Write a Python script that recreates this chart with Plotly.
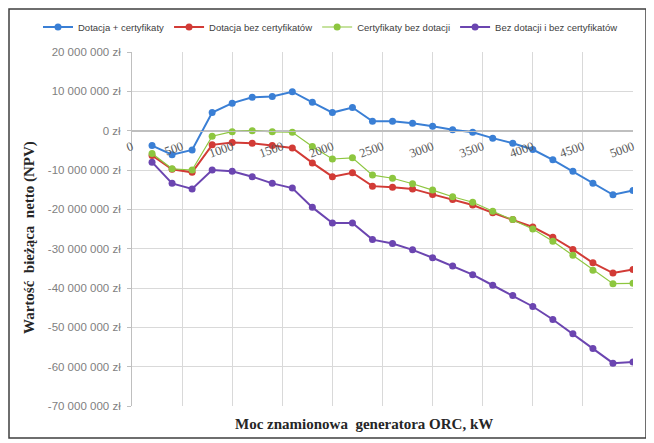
import plotly.graph_objects as go

power_kw = [200, 400, 600, 800, 1000, 1200, 1400, 1600, 1800, 2000, 2200, 2400, 2600,
            2800, 3000, 3200, 3400, 3600, 3800, 4000, 4200, 4400, 4600, 4800, 5000]

dotacja_certyfikaty = [-3.8, -6.1, -4.9, 4.6, 7.0, 8.5, 8.7, 9.9, 7.2, 4.6, 5.9, 2.4, 2.4,
                       1.9, 1.1, 0.25, -0.4, -1.9, -3.2, -4.8, -7.4, -10.3, -13.4, -16.3, -15.2]
dotacja_bez_cert = [-6.3, -9.8, -10.6, -3.6, -3.0, -3.2, -3.8, -4.4, -8.2, -11.7, -10.7, -14.1, -14.4,
                    -14.8, -16.2, -17.5, -18.9, -20.9, -22.6, -24.5, -27.1, -30.2, -33.6, -36.2, -35.3]
cert_bez_dotacji = [-5.8, -9.7, -10.0, -1.4, -0.25, 0.0, -0.3, -0.4, -4.0, -7.2, -6.9, -11.3, -12.1,
                    -13.5, -15.1, -16.8, -18.2, -20.5, -22.6, -25.0, -28.1, -31.7, -35.5, -38.9, -38.8]
bez_dotacji_bez_cert = [-8.0, -13.4, -14.8, -10.0, -10.3, -11.7, -13.4, -14.6, -19.5, -23.5, -23.5, -27.7, -28.7,
                        -30.3, -32.3, -34.4, -36.6, -39.3, -41.9, -44.7, -48.0, -51.6, -55.4, -59.1, -58.8]

series_names = ["Dotacja + certyfikaty", "Dotacja bez certyfikatów",
                "Certyfikaty bez dotacji", "Bez dotacji i bez certyfikatów"]
series_values = [dotacja_certyfikaty, dotacja_bez_cert, cert_bez_dotacji, bez_dotacji_bez_cert]
series_colors = ["#3a7fd5", "#d23b36", "#8dc63f", "#6b45b0"]
series_widths = [2, 2, 1.2, 2]

y_tick_vals = [20, 10, 0, -10, -20, -30, -40, -50, -60, -70]
y_tick_text = ["20 000 000 zł", "10 000 000 zł", "0 zł", "-10 000 000 zł", "-20 000 000 zł",
               "-30 000 000 zł", "-40 000 000 zł", "-50 000 000 zł", "-60 000 000 zł", "-70 000 000 zł"]
x_tick_vals = [0, 500, 1000, 1500, 2000, 2500, 3000, 3500, 4000, 4500, 5000]

fig = go.Figure()
for name, vals, col, w in zip(series_names, series_values, series_colors, series_widths):
    fig.add_trace(go.Scatter(
        x=power_kw, y=[v * 1e6 for v in vals], name=name, mode="lines+markers",
        line=dict(color=col, width=w), marker=dict(color=col, size=7)))

# page body has an 8px default margin: convert target screen px -> figure px
OFF = 8
W, H = 654, 443
S_LEFT, S_RIGHT, S_TOP, S_BOT = 132, 633, 52, 406
L, T = S_LEFT - OFF, S_TOP - OFF
R = W - (S_RIGHT - OFF)
B = H - (S_BOT - OFF)
pw = W - L - R
ph = H - T - B
ymin, ymax = -70e6, 20e6


def px(sx):
    return (sx - S_LEFT) / pw


def py(sy):
    return (S_BOT - sy) / ph


fig.update_layout(
    width=W, height=H,
    margin=dict(l=L, r=R, t=T, b=B, autoexpand=False),
    paper_bgcolor="white", plot_bgcolor="white",
    font=dict(family="Liberation Sans", color="#404040"),
    legend=dict(orientation="h", x=px(38), xanchor="left",
                y=py(27), yanchor="middle",
                font=dict(size=9.5, color="#404040", family="Liberation Sans"),
                itemwidth=30, tracegroupgap=0),
    showlegend=True,
)
fig.update_xaxes(
    range=[0, 5000], tickvals=x_tick_vals, ticktext=[str(v) for v in x_tick_vals],
    showgrid=True, gridcolor="#d9d9d9", gridwidth=1,
    anchor="free", position=(0 - ymin) / (ymax - ymin),
    showline=True, linecolor="#bfbfbf", linewidth=1,
    ticks="", tickangle=-20, ticklabelstandoff=3,
    tickfont=dict(family="Liberation Serif", size=12.5, color="#595959"),
    zeroline=False,
)
fig.update_yaxes(
    range=[ymin, ymax], tickvals=[v * 1e6 for v in y_tick_vals], ticktext=y_tick_text,
    showgrid=True, gridcolor="#d9d9d9", gridwidth=1,
    zeroline=True, zerolinecolor="#bfbfbf", zerolinewidth=1,
    showline=True, linecolor="#bfbfbf", linewidth=1,
    ticks="outside", ticklen=4, tickcolor="#bfbfbf", ticklabelstandoff=4,
    tickfont=dict(family="Liberation Sans", size=11.5, color="#7f7f7f"),
)

fig.add_annotation(text="<b>Moc znamionowa  generatora ORC, kW</b>", xref="paper", yref="paper",
                   x=px(364), y=py(424), xanchor="center", yanchor="middle",
                   showarrow=False, font=dict(family="Liberation Serif", size=15, color="#262626"))
fig.add_annotation(text="<b>Wartość  bieżąca  netto (NPV)</b>", xref="paper", yref="paper",
                   x=px(30), y=py(238), xanchor="center", yanchor="middle",
                   textangle=-90, showarrow=False,
                   font=dict(family="Liberation Serif", size=15, color="#262626"))
fig.add_shape(type="rect", xref="paper", yref="paper",
              x0=px(9), x1=px(646), y0=py(438), y1=py(9),
              line=dict(color="#3f3f3f", width=1.5))

fig.write_html("out.html")
